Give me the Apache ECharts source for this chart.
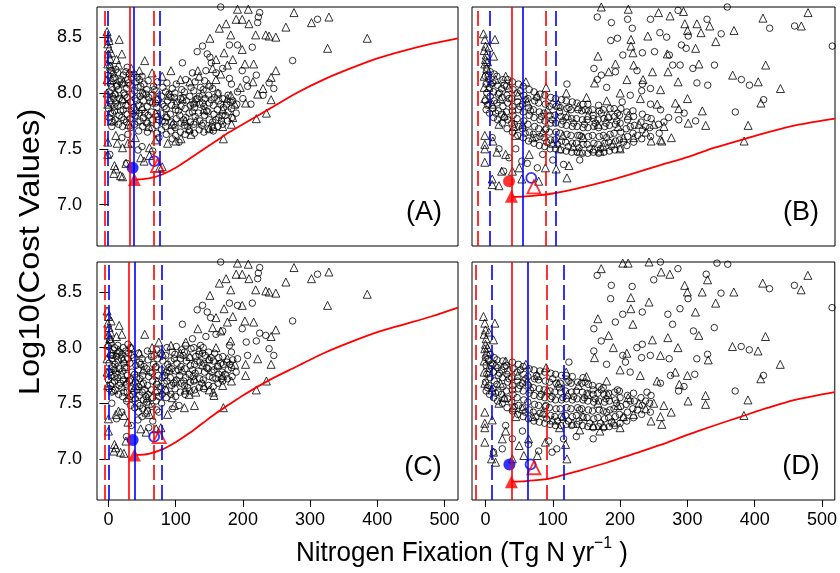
<!DOCTYPE html>
<html>
<head>
<meta charset="utf-8">
<script src="https://cdn.jsdelivr.net/npm/echarts@6/dist/echarts.min.js"></script>
<style>
  html, body { margin: 0; padding: 0; background: #fff; }
  #chart { width: 840px; height: 573px; }
</style>
</head>
<body>
<div id="chart"></div>
<script>
// ---- tick labels ----
const xTicks = [0, 100, 200, 300, 400, 500];
const yTicks = [7.0, 7.5, 8.0, 8.5];
const panelLabels = ['(A)', '(B)', '(C)', '(D)'];

// ---- panel A ----
const circA = [
  [1,7.78],[0,7.86],[2,7.93],[1,8.01],[3,8.08],[0,8.16],[2,8.24],[5,7.74],[6,7.82],[4,7.9],[6,7.97],[5,8.05],[7,8.13],[4,8.2],
  [10,7.76],[9,7.84],[11,7.91],[10,7.99],[12,8.06],[9,8.14],[11,8.21],[15,7.72],[16,7.8],[14,7.88],[16,7.95],[15,8.03],[17,8.1],[14,8.18],
  [21,7.7],[20,7.78],[22,7.85],[21,7.93],[23,8.0],[20,8.08],[22,8.16],[27,7.74],[28,7.81],[26,7.89],[28,7.96],[27,8.04],[29,8.12],[26,8.19],
  [33,7.69],[32,7.77],[34,7.84],[33,7.92],[35,7.99],[32,8.07],[34,8.14],[39,7.72],[40,7.8],[38,7.87],[40,7.95],[39,8.02],[41,8.1],[38,8.17],
  [45,7.66],[44,7.74],[46,7.82],[45,7.89],[47,7.97],[44,8.05],[46,8.12],[51,7.7],[52,7.78],[50,7.85],[52,7.93],[51,8.0],[53,8.08],[50,8.15],
  [58,7.65],[57,7.73],[59,7.8],[58,7.88],[60,7.96],[57,8.03],[59,8.11],[65,7.68],[66,7.76],[64,7.83],[66,7.91],[65,7.98],[67,8.06],
  [72,7.64],[71,7.71],[73,7.79],[72,7.87],[74,7.94],[71,8.02],[73,8.1],[79,7.67],[80,7.75],[78,7.82],[80,7.9],[79,7.97],[81,8.05],
  [86,7.63],[85,7.7],[87,7.78],[86,7.86],[88,7.93],[85,8.01],[87,8.09],[93,7.66],[94,7.74],[92,7.81],[94,7.89],[93,7.96],[95,8.04],
  [100,7.62],[99,7.69],[101,7.77],[100,7.85],[102,7.92],[99,8.0],[101,8.08],[107,7.65],[108,7.73],[106,7.8],[108,7.88],[107,7.95],[109,8.03],
  [114,7.63],[113,7.71],[115,7.78],[114,7.86],[116,7.93],[113,8.01],[115,8.12],[121,7.66],[122,7.74],[120,7.82],[122,7.89],[121,7.97],[123,8.05],
  [128,7.64],[127,7.72],[129,7.79],[128,7.87],[130,7.94],[127,8.02],[129,8.1],[135,7.67],[136,7.75],[134,7.82],[136,7.9],[135,7.97],[137,8.05],
  [142,7.65],[141,7.73],[143,7.8],[142,7.88],[144,7.95],[141,8.03],[143,8.11],[149,7.68],[150,7.76],[148,7.83],[150,7.91],[149,7.98],[151,8.06],
  [156,7.66],[155,7.74],[157,7.81],[156,7.89],[158,7.96],[155,8.04],[163,7.7],[164,7.78],[162,7.85],[164,7.93],[163,8.0],
  [170,7.72],[169,7.8],[171,7.87],[170,7.95],[177,7.75],[178,7.83],[176,7.9],[178,7.98],[184,7.78],[183,7.86],[185,7.93],[190,7.82],[191,7.9],
  [3,7.82],[8,7.95],[13,8.07],[18,7.84],[24,7.98],[30,8.09],[36,7.81],[42,7.93],[48,8.06],[54,7.82],[62,7.92],[68,8.03],[75,7.76],[83,7.88],
  [90,7.99],[97,7.72],[104,7.84],[111,7.96],[118,7.7],[125,7.83],[132,7.95],[139,7.71],[146,7.84],[153,7.94],[160,7.76],[167,7.9],[174,7.8],
  [181,7.92],[7,8.17],[19,8.12],[31,8.17],[43,8.14],[56,7.99],[70,7.91],[84,7.74],[98,7.96],[112,7.76],[126,7.9],[140,7.91],[154,7.7],
  [168,7.75],[47,7.75],[23,7.76],[9,7.88],
  [27,7.37],[29,7.63],[34,7.54],[44,7.49],[50,7.52],[66,7.48],[95,7.59],[105,7.56],[20,7.6],[5,7.7],[75,7.6],[2,7.45],
  [167,8.77],[225,8.72],[223,8.68],[222,8.63],[311,8.66],[274,8.29],[180,8.43],[192,8.43],[214,8.41],[140,8.42],[132,8.37],[147,8.35],
  [151,8.32],[110,8.27],[153,8.27],[199,8.2],[220,8.16],[239,8.09],[246,8.04],[207,8.06],[192,8.01],[183,8.08],[180,8.13],[28,8.23],
  [160,8.18],[170,8.22],[205,8.12],[230,7.98],[200,7.95],[212,7.9],[145,8.2],[125,8.18]
];
const triA = [
  [-2,8.55],[0,8.5],[-1,8.44],[1,8.4],[0,8.35],[2,8.31],[-1,8.26],[3,8.24],[1,8.47],[16,8.48],[54,8.29],[20,8.35],[12,8.3],[4,8.36],[-2,8.12],[-2,8.0],[-1,7.9],
  [5,8.12],[10,8.0],[15,8.25],[22,8.1],[28,7.9],[34,8.22],[40,7.85],[46,8.2],[52,8.0],[58,7.75],[65,8.18],[72,7.95],[80,8.15],[86,7.8],[93,8.2],
  [100,7.9],[107,8.12],[114,7.75],[121,8.1],[128,7.92],[135,8.15],[142,7.85],[149,8.08],[156,7.7],[163,8.0],[170,7.85],[177,7.95],[183,7.72],
  [188,7.9],[160,8.12],[120,7.68],[95,7.72],[60,7.7],[30,7.72],[8,7.75],[150,7.68],[170,7.7],[185,7.78],[110,7.95],[130,7.75],[140,8.0],
  [90,7.98],[70,7.82],[50,7.88],[20,7.95],
  [-1,7.56],[-1,7.45],[11,7.62],[13,7.55],[21,7.51],[29,7.55],[9,7.35],[11,7.32],[8,7.28],[18,7.26],[21,7.25],[26,7.37],[48,7.42],[53,7.39],
  [61,7.44],[61,7.51],[76,7.33],[80,7.34],[88,7.55],[100,7.57],[123,7.63],[108,7.59],[171,7.59],[40,7.6],[70,7.58],
  [151,8.49],[165,8.58],[175,8.62],[182,8.52],[190,8.66],[199,8.66],[209,8.62],[192,8.75],[208,8.75],[219,8.52],[234,8.52],[239,8.51],
  [249,8.5],[264,8.59],[276,8.72],[302,8.63],[328,8.68],[326,8.4],[385,8.49],[172,8.36],[199,8.39],[203,8.26],[216,8.26],[155,8.22],
  [177,8.25],[133,8.2],[249,8.2],[242,8.14],[167,8.17],[222,7.99],[242,7.94],[204,7.91],[235,7.82],[220,7.77],[185,8.3],[160,8.3],
  [215,8.1],[196,8.05],[182,7.98],[230,8.04]
];
const curveA = [[40,7.225],[60,7.235],[80,7.27],[100,7.33],[120,7.41],[140,7.49],[160,7.57],[180,7.65],[200,7.72],[240,7.86],[280,8.0],[320,8.12],[360,8.22],[400,8.31],[440,8.38],[480,8.44],[520,8.49]];
const vlinesA = { redDash: [-5, 68], blueDash: [-0.5, 76], redSolid: [31], blueSolid: [37.6] };
const markA = { blueDot: [36, 7.33], redTri: [38.6, 7.225], blueRing: [68, 7.39], redOpenTri: [73, 7.35] };

// ---- panel B ----
const circB = [
  [1,7.85],[0,7.93],[2,8.0],[1,8.08],[0,8.15],[2,8.22],[6,7.82],[5,7.9],[7,7.97],[6,8.05],[5,8.12],[7,8.19],
  [12,7.78],[11,7.86],[13,7.93],[12,8.01],[11,8.09],[13,8.17],[18,7.76],[19,7.84],[17,7.91],[19,7.99],[18,8.07],[17,8.15],
  [25,7.73],[24,7.81],[26,7.88],[25,7.96],[24,8.04],[26,8.12],[32,7.68],[33,7.76],[31,7.83],[33,7.91],[32,7.98],[31,8.06],[33,8.12],
  [40,7.65],[39,7.73],[41,7.8],[40,7.88],[39,7.95],[41,8.03],[40,8.1],[48,7.62],[49,7.7],[47,7.77],[49,7.85],[48,7.92],[47,8.0],[49,8.08],
  [56,7.6],[55,7.68],[57,7.75],[56,7.83],[55,7.9],[57,7.98],[56,8.06],[64,7.57],[65,7.65],[63,7.72],[65,7.8],[64,7.87],[63,7.95],[65,8.03],
  [72,7.55],[71,7.63],[73,7.7],[72,7.78],[71,7.85],[73,7.93],[72,8.01],[80,7.53],[81,7.61],[79,7.68],[81,7.76],[80,7.83],[79,7.91],[81,7.99],
  [88,7.52],[87,7.6],[89,7.67],[88,7.75],[87,7.82],[89,7.9],[88,7.98],[96,7.5],[97,7.58],[95,7.65],[97,7.73],[96,7.8],[95,7.88],[97,7.96],
  [104,7.5],[103,7.58],[105,7.65],[104,7.73],[103,7.8],[105,7.88],[104,7.95],[112,7.49],[113,7.57],[111,7.64],[113,7.72],[112,7.79],[111,7.87],[113,7.94],
  [120,7.48],[119,7.56],[121,7.63],[120,7.71],[119,7.78],[121,7.86],[120,7.93],[128,7.47],[129,7.55],[127,7.62],[129,7.7],[128,7.77],[127,7.85],[129,7.92],
  [136,7.47],[135,7.55],[137,7.62],[136,7.7],[135,7.77],[137,7.85],[136,7.91],[144,7.46],[145,7.54],[143,7.61],[145,7.69],[144,7.76],[143,7.84],[145,7.9],
  [152,7.46],[151,7.54],[153,7.61],[152,7.69],[151,7.76],[153,7.84],[152,7.9],[160,7.47],[161,7.55],[159,7.62],[161,7.7],[160,7.77],[159,7.85],
  [168,7.46],[167,7.54],[169,7.61],[168,7.69],[167,7.76],[169,7.84],[168,7.89],[176,7.47],[177,7.55],[175,7.62],[177,7.7],[176,7.77],[175,7.85],
  [184,7.48],[183,7.56],[185,7.63],[184,7.71],[183,7.78],[185,7.86],[192,7.49],[193,7.57],[191,7.64],[193,7.72],[192,7.79],[191,7.86],
  [200,7.5],[199,7.58],[201,7.65],[200,7.73],[199,7.8],[201,7.86],[210,7.53],[211,7.61],[209,7.68],[211,7.76],[210,7.83],
  [220,7.56],[219,7.64],[221,7.71],[220,7.79],[219,7.84],[232,7.59],[233,7.67],[231,7.74],[233,7.81],[245,7.61],[244,7.69],[246,7.77],[258,7.64],[257,7.72],
  [3,7.89],[8,8.08],[15,7.82],[21,8.0],[28,7.78],[35,7.95],[43,7.72],[51,7.88],[59,7.64],[67,7.84],[75,7.6],[83,7.79],[91,7.56],[99,7.76],
  [107,7.54],[115,7.75],[123,7.52],[131,7.73],[139,7.51],[147,7.72],[155,7.5],[163,7.73],[171,7.5],[179,7.73],[187,7.52],[195,7.75],[205,7.56],
  [215,7.7],[226,7.62],[238,7.7],[4,8.15],[28,8.07],[52,8.02],[76,7.96],[100,7.9],[124,7.87],[148,7.85],[172,7.82],[196,7.82],[60,7.94],
  [110,7.83],[160,7.8],[40,7.84],[90,7.68],[140,7.62],[180,7.6],
  [27,7.3],[35,7.42],[54,7.39],[62,7.37],[77,7.33],[116,7.36],[100,7.4],[20,7.5],[45,7.5],[10,7.6],[140,7.4],[85,7.45],
  [166,8.68],[187,8.63],[218,8.58],[211,8.66],[245,8.66],[259,8.54],[269,8.5],[286,8.74],[301,8.51],[329,8.66],[350,8.53],[359,8.77],
  [422,8.58],[459,8.6],[515,8.42],[186,8.47],[196,8.49],[204,8.34],[233,8.36],[251,8.37],[273,8.34],[291,8.43],[298,8.4],[278,8.25],
  [289,8.25],[308,8.22],[340,8.25],[314,8.09],[330,8.07],[380,8.12],[392,8.07],[371,7.83],[413,7.94],[312,7.75],[161,8.22],[172,8.16],
  [166,8.12],[193,8.19],[233,8.08],[245,8.04],[272,7.78],[287,7.76],[265,7.74],[245,7.9],[232,8.02],[203,7.92],[121,8.08],[180,8.05],
  [215,7.98],[260,7.85],[295,7.82],[240,7.78],[225,8.2]
];
const triB = [
  [-3,8.53],[-1,8.48],[0,8.42],[-2,8.38],[1,8.34],[0,8.3],[-1,8.26],[2,8.22],[14,8.48],[12,8.33],[5,8.41],[-2,8.15],[-2,8.05],[-1,7.95],[3,8.28],
  [5,8.05],[10,7.9],[15,8.12],[22,7.95],[28,7.8],[35,8.05],[42,7.7],[48,7.98],[55,7.72],[62,7.92],[70,7.6],[77,7.98],[85,7.65],[92,7.85],
  [100,7.55],[108,7.9],[115,7.62],[122,7.8],[130,7.52],[138,7.88],[145,7.6],[152,7.8],[160,7.5],[167,7.72],[175,7.52],[182,7.8],[190,7.55],
  [197,7.7],[205,7.6],[212,7.8],[220,7.6],[228,7.72],[238,7.65],[250,7.72],[260,7.58],[265,7.7],[30,8.15],[60,8.1],[90,8.05],[120,8.0],
  [150,7.96],[180,7.93],[110,7.5],[140,7.48],[170,7.48],[200,7.5],[45,7.62],[20,7.72],
  [-1,7.54],[-1,7.5],[-1,7.38],[11,7.57],[17,7.47],[24,7.3],[10,7.23],[10,7.18],[20,7.17],[40,7.3],[50,7.33],[54,7.23],[79,7.21],[89,7.33],
  [105,7.32],[121,7.24],[124,7.35],[65,7.45],[30,7.45],[-1,7.62],
  [172,8.77],[212,8.75],[257,8.72],[274,8.69],[294,8.73],[296,8.62],[300,8.56],[314,8.62],[320,8.54],[333,8.6],[369,8.56],[412,8.67],
  [479,8.72],[469,8.6],[241,8.51],[216,8.48],[216,8.42],[219,8.36],[167,8.33],[220,8.25],[270,8.35],[271,8.19],[248,8.19],[193,8.26],
  [162,8.09],[183,8.19],[260,8.03],[286,8.1],[234,8.12],[282,7.91],[287,7.86],[322,7.84],[342,8.46],[312,8.4],[317,8.26],[367,8.16],
  [405,8.1],[438,8.04],[416,8.25],[409,7.91],[390,7.71],[384,7.57],[327,7.71],[301,7.73],[276,7.6],[262,7.57],[246,7.57],[200,8.0],
  [230,7.95],[255,7.9],[210,8.12],[300,7.95]
];
const curveB = [[40,7.07],[60,7.075],[80,7.085],[100,7.1],[140,7.15],[180,7.21],[220,7.28],[260,7.355],[300,7.425],[340,7.51],[380,7.58],[420,7.65],[460,7.71],[519,7.77]];
const vlinesB = { redDash: [-11, 89], blueDash: [6, 105], redSolid: [38.6], blueSolid: [55.4] };
const markB = { redDot: [35, 7.21], redTri: [38.6, 7.075], blueRing: [68, 7.24], redOpenTri: [72, 7.16] };

// ---- panel C ----
const circC = [
  [1,7.63],[0,7.71],[2,7.78],[1,7.86],[3,7.93],[0,8.01],[2,8.07],[5,7.6],[6,7.68],[4,7.75],[6,7.83],[5,7.9],[7,7.98],[4,8.04],
  [10,7.62],[9,7.7],[11,7.77],[10,7.85],[12,7.92],[9,8.0],[15,7.58],[16,7.66],[14,7.73],[16,7.81],[15,7.88],[17,7.96],[14,8.02],
  [21,7.56],[20,7.64],[22,7.71],[21,7.79],[23,7.86],[20,7.94],[22,8.0],[27,7.52],[28,7.6],[26,7.67],[28,7.75],[27,7.82],[29,7.9],[26,7.97],
  [33,7.48],[32,7.56],[34,7.63],[33,7.71],[35,7.78],[32,7.86],[34,7.93],[33,8.0],[39,7.46],[40,7.54],[38,7.61],[40,7.69],[39,7.76],[41,7.84],[38,7.91],
  [45,7.42],[44,7.5],[46,7.57],[45,7.65],[47,7.72],[44,7.8],[46,7.87],[45,7.95],[51,7.45],[52,7.53],[50,7.6],[52,7.68],[51,7.75],[53,7.83],[50,7.9],
  [58,7.43],[57,7.51],[59,7.58],[58,7.66],[60,7.74],[57,7.81],[59,7.89],[58,7.97],[65,7.47],[66,7.55],[64,7.62],[66,7.7],[65,7.77],[67,7.85],[64,7.92],
  [72,7.44],[71,7.52],[73,7.6],[72,7.67],[74,7.75],[71,7.83],[73,7.9],[72,7.98],[79,7.5],[80,7.58],[78,7.65],[80,7.73],[79,7.8],[81,7.88],[78,7.95],
  [86,7.55],[85,7.62],[87,7.7],[86,7.78],[88,7.85],[85,7.93],[87,8.0],[93,7.58],[94,7.66],[92,7.73],[94,7.81],[93,7.88],[95,7.96],
  [100,7.56],[99,7.63],[101,7.71],[100,7.79],[102,7.86],[99,7.94],[101,8.01],[107,7.6],[108,7.68],[106,7.75],[108,7.83],[107,7.9],[109,7.98],
  [114,7.58],[113,7.66],[115,7.73],[114,7.81],[116,7.88],[113,7.96],[115,8.02],[121,7.61],[122,7.69],[120,7.76],[122,7.84],[121,7.91],[123,7.99],
  [128,7.62],[127,7.7],[129,7.77],[128,7.85],[130,7.92],[127,8.0],[135,7.64],[136,7.72],[134,7.79],[136,7.87],[135,7.94],[137,8.02],
  [142,7.63],[141,7.71],[143,7.78],[142,7.86],[144,7.93],[141,8.0],[149,7.66],[150,7.74],[148,7.81],[150,7.89],[149,7.96],
  [156,7.65],[155,7.73],[157,7.8],[156,7.88],[158,7.95],[163,7.68],[164,7.76],[162,7.83],[164,7.91],[170,7.7],[169,7.78],[171,7.85],[170,7.92],
  [177,7.72],[178,7.8],[176,7.87],[184,7.74],[183,7.82],[185,7.89],[190,7.78],
  [3,7.66],[8,7.8],[13,7.95],[18,7.68],[24,7.82],[30,7.95],[36,7.58],[42,7.73],[48,7.85],[54,7.62],[62,7.78],[68,7.93],[75,7.56],[83,7.68],
  [90,7.82],[97,7.68],[104,7.8],[111,7.93],[118,7.64],[125,7.8],[132,7.88],[139,7.68],[146,7.82],[153,7.91],[160,7.72],[167,7.86],[174,7.76],
  [181,7.85],[7,7.93],[19,7.9],[31,7.7],[43,7.62],[56,7.56],[70,7.82],[84,7.75],[98,7.9],[112,7.7],[126,7.74],[140,7.95],[154,7.78],
  [168,7.72],[47,7.48],[23,7.6],[9,7.74],
  [27,7.2],[34,7.3],[44,7.35],[50,7.38],[20,7.42],[5,7.5],[66,7.34],[75,7.42],[95,7.45],[105,7.48],[12,7.36],[60,7.28],
  [167,8.77],[225,8.72],[223,8.67],[222,8.62],[311,8.66],[274,8.24],[180,8.4],[192,8.38],[214,8.4],[140,8.38],[132,8.34],[147,8.32],
  [152,8.27],[110,8.21],[199,8.17],[220,8.06],[239,7.99],[246,7.93],[207,7.93],[192,7.9],[183,7.96],[180,8.02],[29,8.03],[234,8.11],
  [225,8.13],[160,8.12],[170,8.15],[205,8.05],[145,8.1],[125,8.08]
];
const triC = [
  [-2,8.33],[0,8.28],[-1,8.22],[1,8.18],[0,8.12],[2,8.08],[-1,8.03],[3,8.14],[16,8.2],[4,8.24],[12,8.1],[20,8.12],[54,8.12],[-2,7.9],[-2,7.78],[-1,7.66],
  [5,7.95],[10,7.82],[15,7.98],[22,7.9],[28,7.7],[34,8.0],[40,7.66],[46,7.95],[52,7.8],[58,7.55],[65,8.0],[72,7.7],[80,7.95],[86,7.62],
  [93,8.02],[100,7.7],[107,7.95],[114,7.62],[121,7.92],[128,7.72],[135,7.98],[142,7.66],[149,7.9],[156,7.6],[163,7.85],[170,7.75],[177,7.9],
  [183,7.7],[188,7.85],[160,8.0],[120,7.58],[95,7.55],[60,7.5],[30,7.55],[8,7.62],[150,7.62],[170,7.66],[110,7.8],[130,7.6],[140,7.85],
  [90,7.8],[70,7.62],[50,7.68],[20,7.76],[75,8.05],[115,8.05],
  [0,7.36],[0,7.25],[11,7.4],[15,7.43],[23,7.39],[29,7.33],[9,7.13],[11,7.1],[8,7.07],[18,7.06],[23,7.05],[26,7.16],[56,7.42],[61,7.4],
  [48,7.27],[56,7.24],[71,7.27],[78,7.28],[88,7.4],[98,7.48],[128,7.48],[113,7.46],
  [151,8.47],[165,8.58],[175,8.62],[182,8.52],[190,8.66],[199,8.66],[209,8.62],[192,8.76],[208,8.75],[219,8.52],[234,8.51],[239,8.5],
  [249,8.49],[264,8.59],[276,8.72],[302,8.62],[328,8.68],[326,8.38],[385,8.48],[172,8.35],[199,8.38],[203,8.24],[216,8.23],[155,8.18],
  [177,8.23],[133,8.17],[249,8.16],[242,8.1],[167,8.15],[222,7.9],[242,7.85],[204,7.85],[235,7.7],[220,7.62],[171,7.46],[157,7.57],
  [182,8.06],[204,7.75],[185,8.28],[160,8.27]
];
const curveC = [[40,7.035],[60,7.045],[80,7.085],[100,7.15],[120,7.23],[140,7.32],[160,7.41],[180,7.49],[200,7.57],[240,7.71],[280,7.83],[320,7.95],[360,8.05],[400,8.14],[440,8.21],[480,8.28],[520,8.36]];
const vlinesC = { redDash: [-6, 67], blueDash: [0, 79], redSolid: [30], blueSolid: [38.6] };
const markC = { blueDot: [36, 7.17], redTri: [38.6, 7.035], blueRing: [68, 7.2], redOpenTri: [75.7, 7.2] };

// ---- panel D ----
const circD = [
  [1,7.61],[0,7.69],[2,7.76],[1,7.84],[0,7.91],[6,7.58],[5,7.66],[7,7.73],[6,7.81],[5,7.88],[7,7.94],
  [12,7.55],[11,7.63],[13,7.7],[12,7.78],[11,7.85],[13,7.91],[18,7.52],[19,7.6],[17,7.67],[19,7.75],[18,7.82],[17,7.89],
  [25,7.5],[24,7.58],[26,7.65],[25,7.73],[24,7.8],[26,7.88],[32,7.46],[33,7.54],[31,7.61],[33,7.69],[32,7.76],[31,7.84],
  [40,7.43],[39,7.51],[41,7.58],[40,7.66],[39,7.73],[41,7.81],[40,7.87],[48,7.4],[49,7.48],[47,7.55],[49,7.63],[48,7.7],[47,7.78],[49,7.85],
  [56,7.38],[55,7.46],[57,7.53],[56,7.61],[55,7.68],[57,7.76],[56,7.83],[64,7.36],[65,7.44],[63,7.51],[65,7.59],[64,7.66],[63,7.74],[65,7.81],
  [72,7.34],[71,7.42],[73,7.49],[72,7.57],[71,7.64],[73,7.72],[72,7.8],[80,7.33],[81,7.41],[79,7.48],[81,7.56],[80,7.63],[79,7.71],[81,7.79],
  [88,7.32],[87,7.4],[89,7.47],[88,7.55],[87,7.62],[89,7.7],[88,7.78],[96,7.31],[97,7.39],[95,7.46],[97,7.54],[96,7.61],[95,7.69],[97,7.77],
  [104,7.3],[103,7.38],[105,7.45],[104,7.53],[103,7.6],[105,7.68],[104,7.76],[112,7.3],[113,7.38],[111,7.45],[113,7.53],[112,7.6],[111,7.68],[113,7.75],
  [120,7.31],[119,7.39],[121,7.46],[120,7.54],[119,7.61],[121,7.69],[120,7.75],[128,7.3],[129,7.38],[127,7.45],[129,7.53],[128,7.6],[127,7.68],[129,7.74],
  [136,7.31],[135,7.39],[137,7.46],[136,7.54],[135,7.61],[137,7.69],[144,7.3],[145,7.38],[143,7.45],[145,7.53],[144,7.6],[143,7.68],[145,7.73],
  [152,7.29],[151,7.37],[153,7.44],[152,7.52],[151,7.59],[153,7.67],[160,7.28],[161,7.36],[159,7.43],[161,7.51],[160,7.58],[159,7.66],
  [168,7.29],[167,7.37],[169,7.44],[168,7.52],[167,7.59],[169,7.65],[176,7.28],[177,7.36],[175,7.43],[177,7.51],[176,7.58],[175,7.64],
  [184,7.29],[183,7.37],[185,7.44],[184,7.52],[183,7.59],[192,7.3],[193,7.38],[191,7.45],[193,7.53],[192,7.6],
  [200,7.32],[199,7.4],[201,7.47],[200,7.55],[199,7.61],[210,7.34],[211,7.42],[209,7.49],[211,7.57],[220,7.37],[219,7.45],[221,7.52],[220,7.59],
  [232,7.4],[233,7.48],[231,7.55],[245,7.42],[244,7.5],[246,7.57],
  [3,7.64],[8,7.84],[15,7.59],[21,7.77],[28,7.54],[35,7.72],[43,7.47],[51,7.66],[59,7.42],[67,7.62],[75,7.38],[83,7.58],[91,7.36],[99,7.56],
  [107,7.34],[115,7.55],[123,7.34],[131,7.56],[139,7.34],[147,7.55],[155,7.32],[163,7.54],[171,7.32],[179,7.54],[187,7.33],[195,7.5],[205,7.37],
  [215,7.52],[226,7.44],[238,7.52],[4,7.9],[28,7.83],[52,7.8],[76,7.75],[100,7.72],[124,7.7],[148,7.69],[172,7.62],[196,7.62],[60,7.72],
  [110,7.64],[160,7.62],[40,7.62],[90,7.48],[140,7.44],[180,7.42],
  [25,7.09],[40,7.18],[64,7.13],[79,7.07],[94,7.16],[106,7.09],[116,7.18],[12,7.06],[99,7.06],[30,7.3],[55,7.25],[135,7.2],[160,7.18],
  [166,8.65],[187,8.56],[218,8.55],[250,8.61],[260,8.77],[286,8.71],[301,8.44],[328,8.66],[344,8.76],[360,8.75],[350,8.49],[422,8.53],
  [459,8.56],[515,8.36],[186,8.44],[204,8.3],[233,8.32],[271,8.3],[289,8.35],[278,8.21],[309,8.15],[340,8.18],[314,7.9],[330,7.94],
  [380,8.01],[392,7.98],[371,7.61],[413,7.75],[311,7.76],[161,8.17],[172,8.06],[161,7.97],[193,8.23],[233,8.03],[245,7.93],[273,7.9],
  [287,7.61],[275,7.75],[232,7.91],[208,7.87],[124,7.87],[204,7.93],[180,7.85],[215,7.78],[260,7.68],[295,7.65],[240,7.6],[225,8.0]
];
const triD = [
  [-3,8.28],[-1,8.22],[0,8.16],[-2,8.12],[1,8.08],[0,8.03],[-1,7.99],[2,7.96],[14,8.22],[12,8.07],[5,8.14],[-2,7.88],[-2,7.78],[-1,7.68],[3,8.0],
  [5,7.78],[10,7.62],[15,7.85],[22,7.68],[28,7.55],[35,7.8],[42,7.46],[48,7.75],[55,7.45],[62,7.7],[70,7.38],[77,7.75],[85,7.42],[92,7.62],
  [100,7.35],[108,7.68],[115,7.38],[122,7.58],[130,7.32],[138,7.66],[145,7.38],[152,7.58],[160,7.3],[167,7.5],[175,7.3],[182,7.58],[190,7.33],
  [197,7.48],[205,7.38],[212,7.55],[220,7.4],[228,7.5],[238,7.45],[250,7.5],[260,7.38],[265,7.48],[30,7.88],[60,7.85],[90,7.82],[120,7.78],
  [150,7.74],[180,7.7],[110,7.28],[140,7.26],[170,7.25],[200,7.28],[45,7.38],[20,7.5],
  [-1,7.15],[-1,7.28],[-1,7.32],[9,7.0],[15,6.97],[12,7.06],[25,7.18],[40,7.0],[50,7.12],[57,7.03],[77,7.03],[89,7.15],[119,7.13],[121,7.0],
  [64,7.18],[10,7.35],[30,7.25],[-1,7.42],
  [172,8.71],[204,8.76],[212,8.76],[243,8.77],[261,8.68],[274,8.66],[296,8.56],[300,8.5],[322,8.5],[330,8.61],[369,8.5],[412,8.58],
  [479,8.65],[469,8.52],[243,8.41],[216,8.45],[216,8.35],[219,8.21],[167,8.26],[312,8.32],[342,8.4],[271,8.09],[248,8.07],[183,8.11],
  [162,7.91],[286,8.0],[260,7.93],[317,8.11],[331,7.89],[416,8.1],[405,7.97],[438,7.85],[367,8.01],[409,7.72],[390,7.53],[384,7.39],
  [327,7.57],[327,7.49],[301,7.52],[276,7.42],[262,7.31],[246,7.34],[288,7.67],[282,7.78],[200,7.8],[230,7.75],[255,7.7],[210,7.95],
  [300,7.75],[190,8.0]
];
const curveD = [[40,6.795],[60,6.8],[80,6.81],[100,6.83],[140,6.895],[180,6.965],[220,7.045],[260,7.125],[300,7.215],[340,7.3],[380,7.38],[420,7.46],[460,7.53],[519,7.6]];
const vlinesD = { redDash: [-14, 91.6], blueDash: [9, 117], redSolid: [38.6], blueSolid: [62.9] };
const markD = { blueDot: [35.6, 6.95], redTri: [38.6, 6.795], blueRing: [67, 6.95], redOpenTri: [72, 6.92] };

// ---- layout ----
const FONT = '"Liberation Sans", Arial, Helvetica, sans-serif';
const RED = '#ff0000', BLUE = '#0000ff';
const grids = [
  { left: 97, top: 7, width: 361, height: 239 },
  { left: 472, top: 7, width: 363, height: 239 },
  { left: 97, top: 262, width: 361, height: 238 },
  { left: 472, top: 262, width: 363, height: 238 }
];
const xRanges = [[-17, 520], [-20, 519], [-17, 520], [-20, 519]];
const panels = [
  { circ: circA, tri: triA, curve: curveA, vl: vlinesA, mk: markA },
  { circ: circB, tri: triB, curve: curveB, vl: vlinesB, mk: markB },
  { circ: circC, tri: triC, curve: curveC, vl: vlinesC, mk: markC },
  { circ: circD, tri: triD, curve: curveD, vl: vlinesD, mk: markD }
];

const chart = echarts.init(document.getElementById('chart'), null, { renderer: 'canvas' });

const xAxes = grids.map((g, i) => ({
  type: 'value', gridIndex: i, min: xRanges[i][0], max: xRanges[i][1],
  axisLine: { show: false }, splitLine: { show: false },
  axisTick: { show: i >= 2, length: 7, lineStyle: { color: '#000' }, customValues: xTicks },
  axisLabel: { show: i >= 2, customValues: xTicks, color: '#000', fontSize: 18, fontFamily: FONT, margin: 11 }
}));
const yAxes = grids.map((g, i) => ({
  type: 'value', gridIndex: i, min: 6.63, max: 8.77,
  axisLine: { show: false }, splitLine: { show: false },
  axisTick: { show: i % 2 === 0, length: 9, lineStyle: { color: '#000' }, customValues: yTicks },
  axisLabel: { show: i % 2 === 0, customValues: yTicks, color: '#000', fontSize: 18, fontFamily: FONT, margin: 15,
    formatter: v => v.toFixed(1) }
}));

const series = [];
panels.forEach((p, i) => {
  const ax = { xAxisIndex: i, yAxisIndex: i };
  series.push({ ...ax, type: 'scatter', data: p.circ, symbol: 'circle', symbolSize: 6.5, silent: true,
    itemStyle: { color: 'rgba(0,0,0,0)', borderColor: '#000', borderWidth: 1 } });
  series.push({ ...ax, type: 'scatter', data: p.tri, symbol: 'triangle', symbolSize: 8, silent: true,
    itemStyle: { color: 'rgba(0,0,0,0)', borderColor: '#000', borderWidth: 1 } });
  const lines = [];
  p.vl.redDash.forEach(v => lines.push({ xAxis: v, lineStyle: { color: RED, width: 1.6, type: [15, 5] } }));
  p.vl.blueDash.forEach(v => lines.push({ xAxis: v, lineStyle: { color: BLUE, width: 1.6, type: [15, 5] } }));
  p.vl.redSolid.forEach(v => lines.push({ xAxis: v, lineStyle: { color: RED, width: 1.6, type: 'solid' } }));
  p.vl.blueSolid.forEach(v => lines.push({ xAxis: v, lineStyle: { color: BLUE, width: 1.6, type: 'solid' } }));
  series.push({ ...ax, type: 'line', data: [], silent: true,
    markLine: { silent: true, symbol: ['none', 'none'], label: { show: false }, animation: false, data: lines } });
  series.push({ ...ax, type: 'line', data: p.curve, smooth: 0.3, symbol: 'none', silent: true,
    lineStyle: { color: RED, width: 1.8 } });
  const mk = p.mk;
  const dot = mk.blueDot || mk.redDot;
  series.push({ ...ax, type: 'scatter', data: [dot], symbol: 'circle', symbolSize: 12, silent: true,
    itemStyle: { color: mk.blueDot ? BLUE : RED } });
  series.push({ ...ax, type: 'scatter', data: [mk.redTri], symbol: 'triangle', symbolSize: 13, silent: true,
    itemStyle: { color: RED } });
  series.push({ ...ax, type: 'scatter', data: [mk.blueRing], symbol: 'circle', symbolSize: 10, silent: true,
    itemStyle: { color: 'rgba(0,0,0,0)', borderColor: BLUE, borderWidth: 1.8 } });
  series.push({ ...ax, type: 'scatter', data: [mk.redOpenTri], symbol: 'triangle', symbolSize: 13, silent: true,
    itemStyle: { color: 'rgba(0,0,0,0)', borderColor: RED, borderWidth: 1.8 } });
});

const labelPos = [[424, 213], [801, 213], [423, 468], [801, 467]];
const graphic = labelPos.map((pos, i) => ({
  type: 'text', x: pos[0], y: pos[1], silent: true,
  style: { text: panelLabels[i], fill: '#000', font: '27px ' + FONT, textAlign: 'center', textVerticalAlign: 'middle' }
}));
graphic.push({
  type: 'text', x: 462, y: 551, scaleX: 0.93, silent: true,
  style: {
    text: '{a|Nitrogen Fixation (Tg N yr}{s|−1}{a| )}', textAlign: 'center', textVerticalAlign: 'middle',
    rich: {
      a: { fontSize: 28, fontFamily: FONT, fill: '#000', lineHeight: 32, verticalAlign: 'bottom' },
      s: { fontSize: 17, fontFamily: FONT, fill: '#000', lineHeight: 32, verticalAlign: 'top' }
    }
  }
});
graphic.push({
  type: 'text', x: 31, y: 252, rotation: Math.PI / 2, scaleX: 1.09, silent: true,
  style: { text: 'Log10(Cost Values)', fill: '#000', font: '30px ' + FONT, textAlign: 'center', textVerticalAlign: 'middle' }
});

chart.setOption({
  animation: false,
  backgroundColor: '#fff',
  grid: grids.map(g => ({ ...g, show: true, borderColor: '#000', borderWidth: 1, backgroundColor: 'transparent' })),
  xAxis: xAxes,
  yAxis: yAxes,
  series: series,
  graphic: graphic
});
</script>
</body>
</html>
